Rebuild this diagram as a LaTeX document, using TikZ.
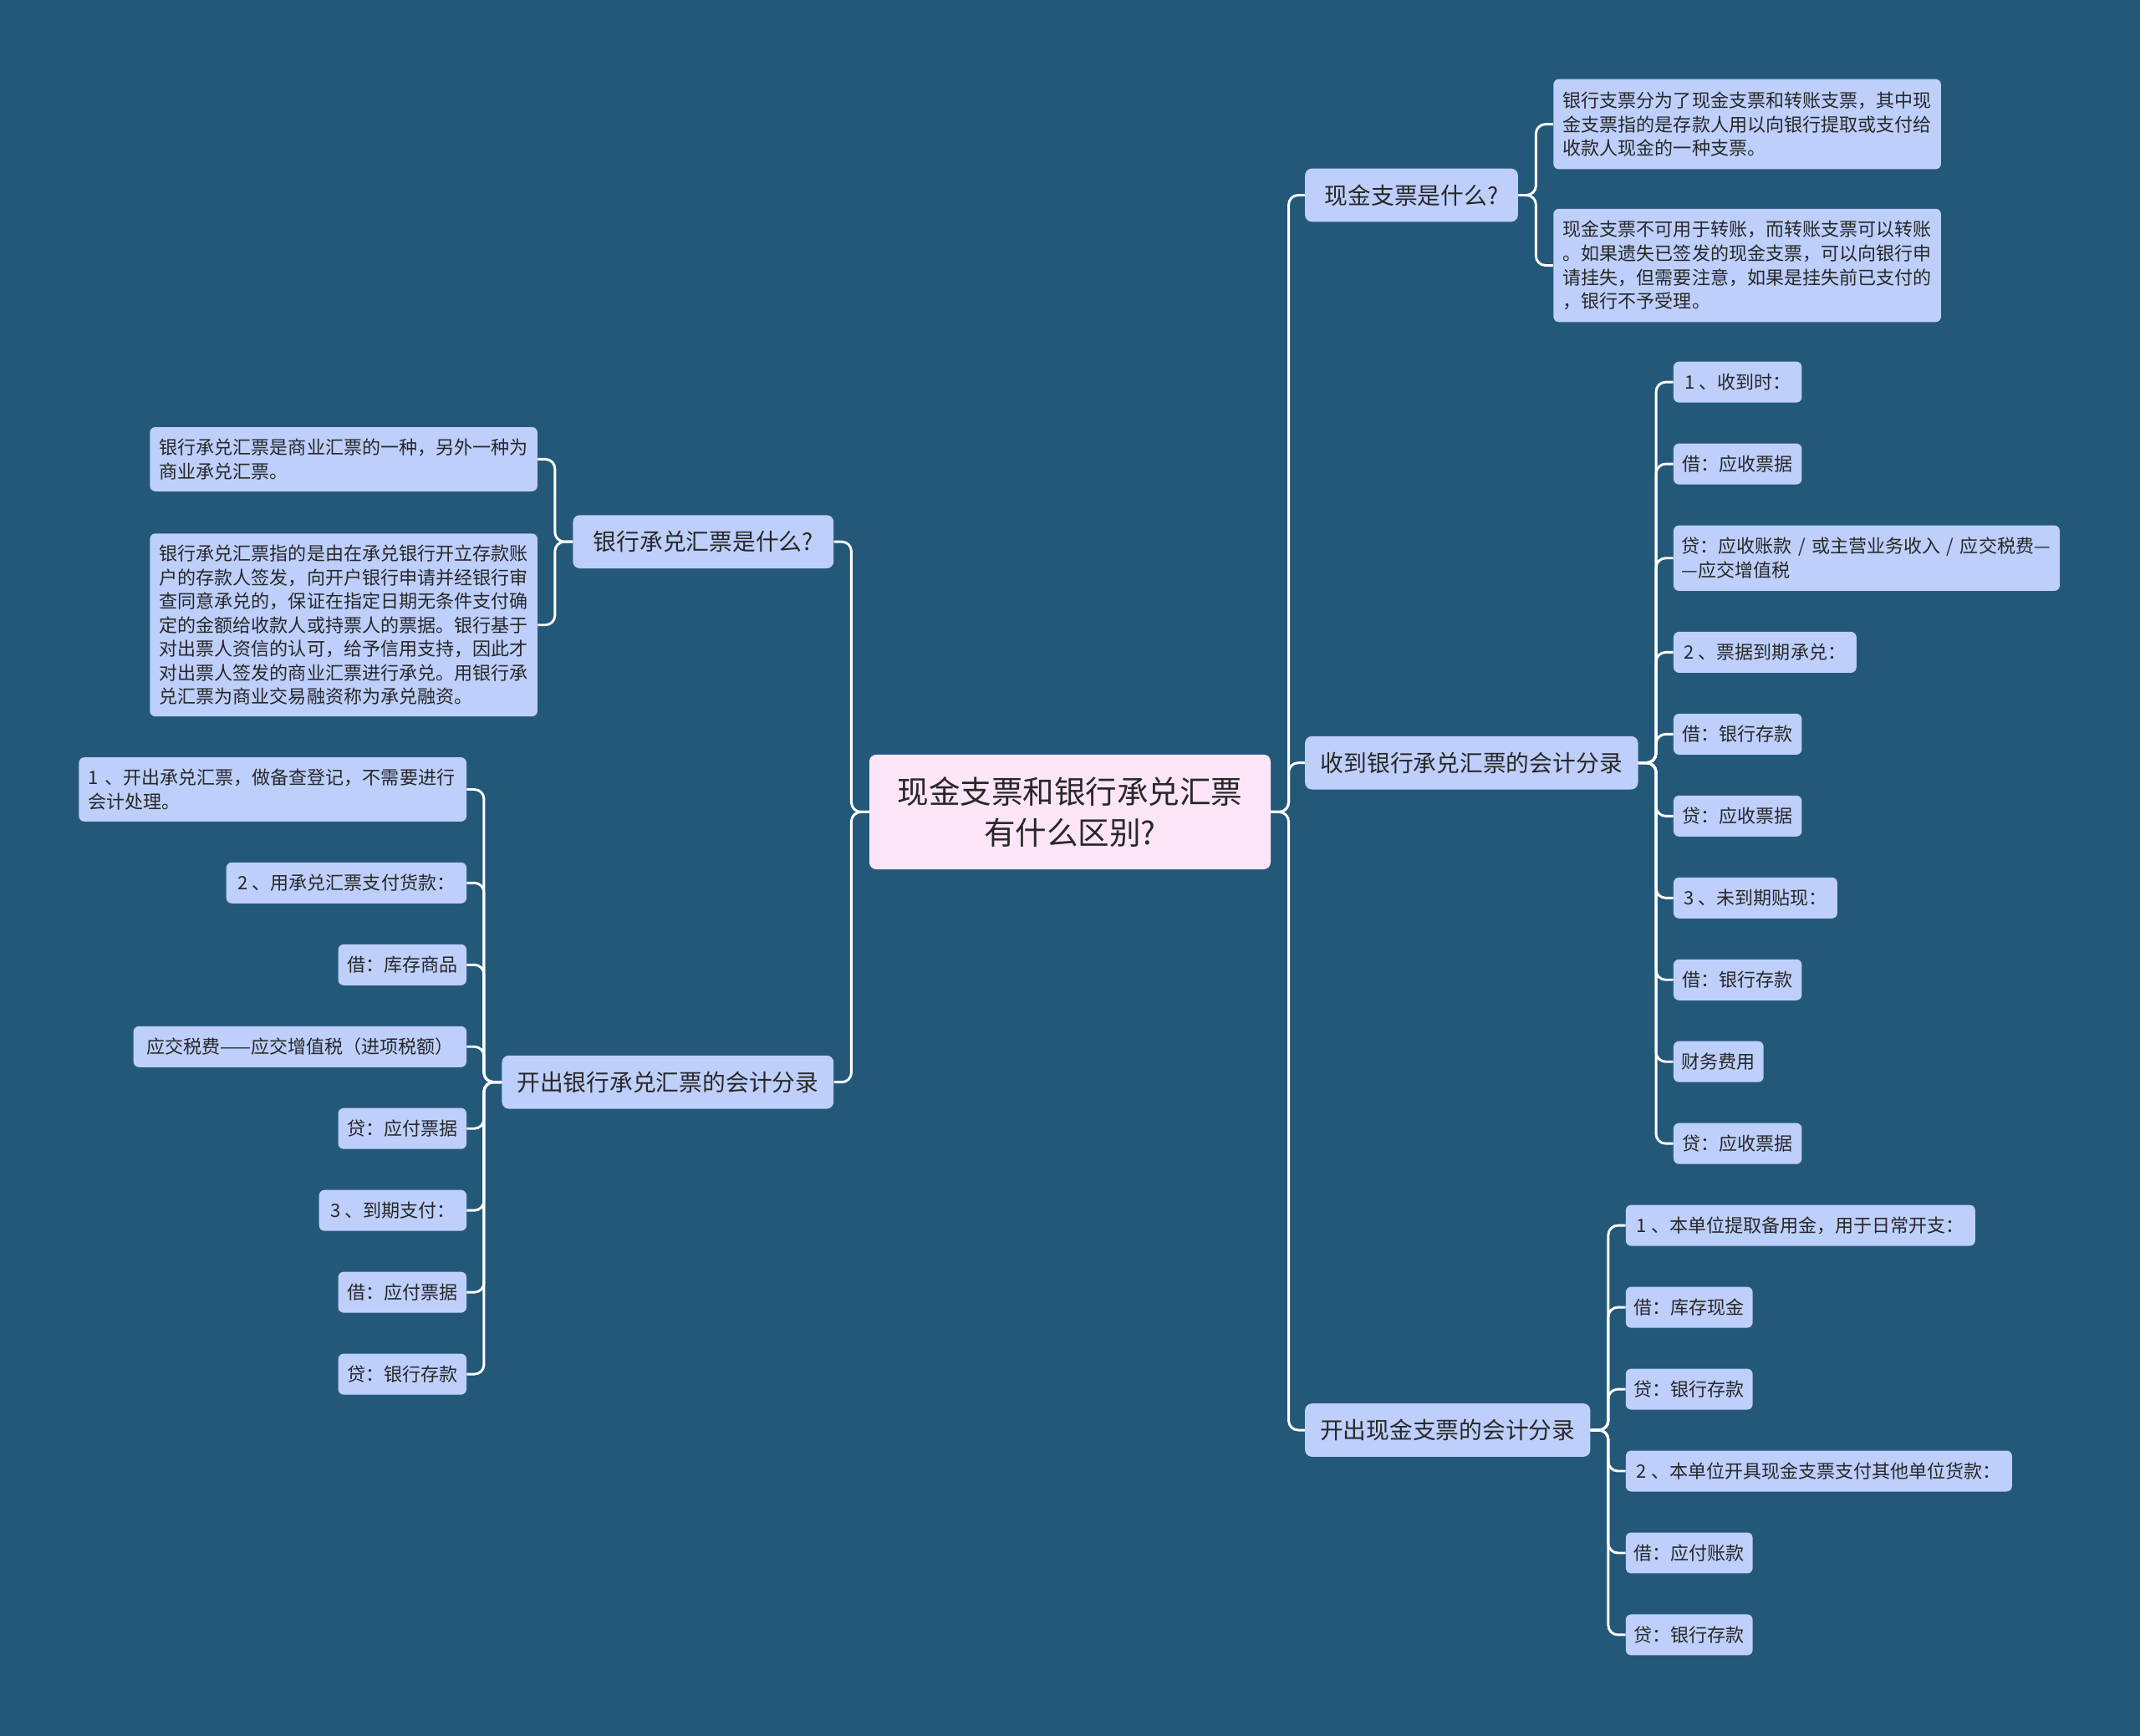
\documentclass[tikz,border=0pt]{standalone}
\usepackage{fontspec}
\newfontfamily\cjk{Noto Sans CJK SC}
\definecolor{bg}{RGB}{36,88,121}
\definecolor{nodefill}{RGB}{189,207,250}
\definecolor{rootfill}{RGB}{253,229,248}
\definecolor{txt}{RGB}{40,40,40}
\begin{document}
\begin{tikzpicture}[x=1pt,y=1pt,
 base/.style={text=txt, fill=nodefill, rounded corners=4pt, inner sep=0pt, align=center},
 rootbox/.style={base, fill=rootfill, font=\cjk\fontsize{23}{30}\selectfont, minimum width=294pt, minimum height=84pt, rounded corners=5pt},
 lvlone/.style={base, font=\cjk\fontsize{17}{20}\selectfont, minimum height=39pt, rounded corners=5pt},
 leaf/.style={base, font=\cjk\fontsize{13.5}{17.5}\selectfont, minimum height=30pt},
 para/.style={base, font=\cjk\fontsize{13.5}{17.5}\selectfont, text width=270pt, inner xsep=7pt, align=left},
 link/.style={draw=white, line width=1.8pt, rounded corners=7pt}]
\fill[bg] (0,0) rectangle (1568,-1272.1);
\useasboundingbox (0,0) rectangle (1568,-1272.1);

% root
\node[rootbox] (root) at (784,-595) {现金支票和银行承兑汇票\\有什么区别?};

% level one, right
\node[lvlone, anchor=west, minimum width=156pt] (A1) at (956,-143) {现金支票是什么?};
\node[lvlone, anchor=west, minimum width=244pt] (A2) at (956,-559) {收到银行承兑汇票的会计分录};
\node[lvlone, anchor=west, minimum width=209pt] (A3) at (956,-1048) {开出现金支票的会计分录};
% level one, left
\node[lvlone, anchor=east, minimum width=191pt] (B1) at (611,-397) {银行承兑汇票是什么?};
\node[lvlone, anchor=east, minimum width=243pt] (B2) at (611,-793) {开出银行承兑汇票的会计分录};

% A1 children
\node[para, anchor=west, minimum height=66pt] (a11) at (1138,-91) {银行支票分为了现金支票和转账支票，其中现\\金支票指的是存款人用以向银行提取或支付给\\收款人现金的一种支票。};
\node[para, anchor=west, minimum height=83pt] (a12) at (1138,-194.5) {现金支票不可用于转账，而转账支票可以转账\\。如果遗失已签发的现金支票，可以向银行申\\请挂失，但需要注意，如果是挂失前已支付的\\，银行不予受理。};

% A2 children
\node[leaf, anchor=west, minimum width=94pt] (a21) at (1226,-280) {1 、收到时：};
\node[leaf, anchor=west, minimum width=94pt] (a22) at (1226,-340) {借：应收票据};
\node[para, anchor=west, minimum height=48pt, text width=271pt, inner xsep=6pt] (a23) at (1226,-409) {\mbox{贷：应收账款 / 或主营业务收入 / 应交税费—}\\\mbox{—应交增值税}};
\node[leaf, anchor=west, minimum width=134pt] (a24) at (1226,-478) {2 、票据到期承兑：};
\node[leaf, anchor=west, minimum width=94pt] (a25) at (1226,-538) {借：银行存款};
\node[leaf, anchor=west, minimum width=94pt] (a26) at (1226,-598) {贷：应收票据};
\node[leaf, anchor=west, minimum width=120pt] (a27) at (1226,-658) {3 、未到期贴现：};
\node[leaf, anchor=west, minimum width=94pt] (a28) at (1226,-718) {借：银行存款};
\node[leaf, anchor=west, minimum width=66pt] (a29) at (1226,-778) {财务费用};
\node[leaf, anchor=west, minimum width=94pt] (a210) at (1226,-838) {贷：应收票据};

% A3 children
\node[leaf, anchor=west, minimum width=256pt] (a31) at (1191,-898) {1 、本单位提取备用金，用于日常开支：};
\node[leaf, anchor=west, minimum width=93pt] (a32) at (1191,-958) {借：库存现金};
\node[leaf, anchor=west, minimum width=93pt] (a33) at (1191,-1018) {贷：银行存款};
\node[leaf, anchor=west, minimum width=283pt] (a34) at (1191,-1078) {2 、本单位开具现金支票支付其他单位货款：};
\node[leaf, anchor=west, minimum width=93pt] (a35) at (1191,-1138) {借：应付账款};
\node[leaf, anchor=west, minimum width=93pt] (a36) at (1191,-1198) {贷：银行存款};

% B1 children
\node[para, anchor=east, minimum height=47pt] (b11) at (394,-336.5) {银行承兑汇票是商业汇票的一种，另外一种为\\商业承兑汇票。};
\node[para, anchor=east, minimum height=134pt] (b12) at (394,-458) {银行承兑汇票指的是由在承兑银行开立存款账\\户的存款人签发，向开户银行申请并经银行审\\查同意承兑的，保证在指定日期无条件支付确\\定的金额给收款人或持票人的票据。银行基于\\对出票人资信的认可，给予信用支持，因此才\\对出票人签发的商业汇票进行承兑。用银行承\\兑汇票为商业交易融资称为承兑融资。};

% B2 children
\node[para, anchor=east, minimum height=47pt] (b21) at (342,-578.5) {1 、开出承兑汇票，做备查登记，不需要进行\\会计处理。};
\node[leaf, anchor=east, minimum width=176pt] (b22) at (342,-647) {2 、用承兑汇票支付货款：};
\node[leaf, anchor=east, minimum width=94pt] (b23) at (342,-707) {借：库存商品};
\node[leaf, anchor=east, minimum width=244pt] (b24) at (342,-767) {应交税费——应交增值税（进项税额）};
\node[leaf, anchor=east, minimum width=94pt] (b25) at (342,-827) {贷：应付票据};
\node[leaf, anchor=east, minimum width=108pt] (b26) at (342,-887) {3 、到期支付：};
\node[leaf, anchor=east, minimum width=94pt] (b27) at (342,-947) {借：应付票据};
\node[leaf, anchor=east, minimum width=94pt] (b28) at (342,-1007) {贷：银行存款};

% connectors
\foreach \c in {A1,A2,A3} \draw[link] (root.east) -- ++(13,0) |- (\c.west);
\foreach \c in {B1,B2} \draw[link] (root.west) -- ++(-13,0) |- (\c.east);
\foreach \c in {a11,a12} \draw[link] (A1.east) -- ++(13,0) |- (\c.west);
\foreach \c in {a21,a22,a23,a24,a25,a26,a27,a28,a29,a210} \draw[link] (A2.east) -- ++(13,0) |- (\c.west);
\foreach \c in {a31,a32,a33,a34,a35,a36} \draw[link] (A3.east) -- ++(13,0) |- (\c.west);
\foreach \c in {b11,b12} \draw[link] (B1.west) -- ++(-13,0) |- (\c.east);
\foreach \c in {b21,b22,b23,b24,b25,b26,b27,b28} \draw[link] (B2.west) -- ++(-13,0) |- (\c.east);
\end{tikzpicture}
\end{document}
